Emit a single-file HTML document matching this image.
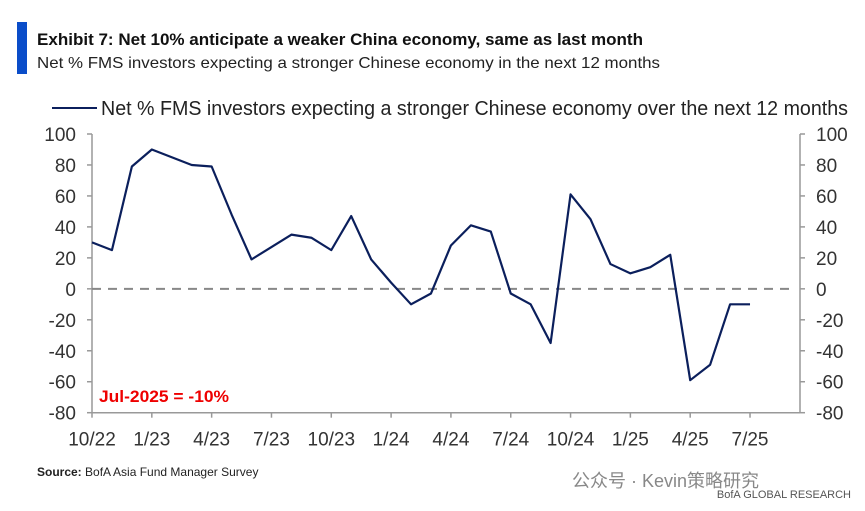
<!DOCTYPE html>
<html><head><meta charset="utf-8"><style>
body{margin:0;background:#fff;}
svg{display:block;font-family:"Liberation Sans","Noto Sans CJK SC",sans-serif;}
</style></head><body>
<svg width="865" height="511" viewBox="0 0 865 511">
<rect x="17" y="22" width="10" height="52" fill="#0a4dc9"/>
<text x="37" y="45" font-size="17" font-weight="bold" fill="#111" textLength="606" lengthAdjust="spacingAndGlyphs">Exhibit 7: Net 10% anticipate a weaker China economy, same as last month</text>
<text x="37" y="68" font-size="16" fill="#222" textLength="623" lengthAdjust="spacingAndGlyphs">Net % FMS investors expecting a stronger Chinese economy in the next 12 months</text>
<line x1="52" y1="108" x2="97" y2="108" stroke="#0b1f5c" stroke-width="2"/>
<text x="101" y="115" font-size="20" fill="#222" textLength="747" lengthAdjust="spacingAndGlyphs">Net % FMS investors expecting a stronger Chinese economy over the next 12 months</text>
<g id="axes"></g>
<g id="marks"></g>
<text x="99" y="402" font-size="17" fill="#e00" font-weight="bold" textLength="130" lengthAdjust="spacingAndGlyphs">Jul-2025 = -10%</text>
<text x="37" y="476" font-size="12" fill="#222"><tspan font-weight="bold">Source:</tspan> BofA Asia Fund Manager Survey</text>
<text x="572" y="487" font-size="18" fill="#888">公众号 · Kevin策略研究</text>
<text x="851" y="498" font-size="11" fill="#555" text-anchor="end">BofA GLOBAL RESEARCH</text>
</svg>
<script>
const values=[30,25,79,90,85,80,79,48,19,27,35,33,25,47,19,4,-10,-3,28,41,37,-3,-10,-35,61,45,16,10,14,22,-59,-49,-10,-10];
const tickLabels=["10/22","1/23","4/23","7/23","10/23","1/24","4/24","7/24","10/24","1/25","4/25","7/25"];
const yTicks=[100,80,60,40,20,0,-20,-40,-60,-80];
const NS="http://www.w3.org/2000/svg";
const x0=92,step=19.94,yTop=134,yBot=412.7,yMax=100,yMin=-80,xRight=800;
const xS=i=>x0+i*step;
const yS=v=>yTop+(yMax-v)/(yMax-yMin)*(yBot-yTop);
function mk(t,a,p){const e=document.createElementNS(NS,t);for(const k in a)e.setAttribute(k,a[k]);p.appendChild(e);return e;}
const ax=document.getElementById('axes'),mg=document.getElementById('marks');
let e=mk('line',{x1:x0,y1:yTop,x2:x0,y2:yBot,stroke:'#999','stroke-width':1.5},ax);


e=mk('line',{x1:xRight,y1:yTop,x2:xRight,y2:yBot,stroke:'#999','stroke-width':1.5},ax);


e=mk('line',{x1:x0,y1:yBot,x2:xRight,y2:yBot,stroke:'#999','stroke-width':1.5},ax);


yTicks.forEach(v=>{
 const y=yS(v);
 mk('line',{x1:x0-5,y1:y,x2:x0,y2:y,stroke:'#999','stroke-width':1.5},ax);
 mk('line',{x1:xRight,y1:y,x2:xRight+5,y2:y,stroke:'#999','stroke-width':1.5},ax);
 let t=mk('text',{x:x0-16,y:y+7,'font-size':19,'text-anchor':'end',fill:'#333'},ax);t.textContent=v;
 
 
 t=mk('text',{x:xRight+16,y:y+7,'font-size':19,fill:'#333'},ax);t.textContent=v;
 
 
});
tickLabels.forEach((l,k)=>{
 const x=xS(k*3);
 mk('line',{x1:x,y1:yBot,x2:x,y2:yBot+5,stroke:'#999','stroke-width':1.5},ax);
 const t=mk('text',{x:x,y:yBot+33,'font-size':19,'text-anchor':'middle',fill:'#333'},ax);t.textContent=l;
 
 
});
e=mk('line',{x1:x0,y1:yS(0),x2:xRight-4,y2:yS(0),stroke:'#888','stroke-width':2,'stroke-dasharray':'9 7'},mg);


e=mk('polyline',{points:values.map((v,i)=>xS(i)+','+yS(v)).join(' '),fill:'none',stroke:'#0b1f5c','stroke-width':2.2,'stroke-linejoin':'round'},mg);


</script>
</body></html>
